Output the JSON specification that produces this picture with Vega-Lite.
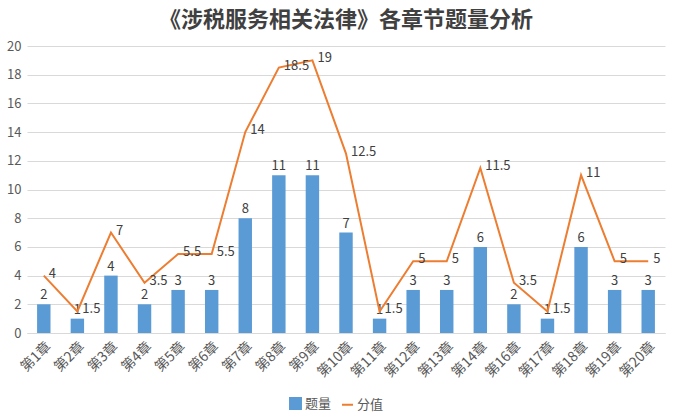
{
  "$schema": "https://vega.github.io/schema/vega-lite/v6.json",
  "autosize": "none",
  "width": 638,
  "height": 287,
  "padding": {"left": 27, "top": 46, "right": 8, "bottom": 87},
  "background": "white",
  "config": {
    "font": "Noto Sans CJK SC",
    "view": {"stroke": null},
    "axis": {"labelFont": "Noto Sans CJK SC", "labelColor": "#595959", "labelFontSize": 13}
  },
  "title": {
    "text": "《涉税服务相关法律》各章节题量分析",
    "fontSize": 22,
    "fontWeight": "bold",
    "color": "#404040",
    "anchor": "middle",
    "offset": 8,
    "font": "Noto Sans CJK SC"
  },
  "data": {
    "values": [
      {"chapter": "第1章", "count": 2, "score": 4},
      {"chapter": "第2章", "count": 1, "score": 1.5},
      {"chapter": "第3章", "count": 4, "score": 7},
      {"chapter": "第4章", "count": 2, "score": 3.5},
      {"chapter": "第5章", "count": 3, "score": 5.5},
      {"chapter": "第6章", "count": 3, "score": 5.5},
      {"chapter": "第7章", "count": 8, "score": 14},
      {"chapter": "第8章", "count": 11, "score": 18.5},
      {"chapter": "第9章", "count": 11, "score": 19},
      {"chapter": "第10章", "count": 7, "score": 12.5},
      {"chapter": "第11章", "count": 1, "score": 1.5},
      {"chapter": "第12章", "count": 3, "score": 5},
      {"chapter": "第13章", "count": 3, "score": 5},
      {"chapter": "第14章", "count": 6, "score": 11.5},
      {"chapter": "第16章", "count": 2, "score": 3.5},
      {"chapter": "第17章", "count": 1, "score": 1.5},
      {"chapter": "第18章", "count": 6, "score": 11},
      {"chapter": "第19章", "count": 3, "score": 5},
      {"chapter": "第20章", "count": 3, "score": 5}
    ]
  },
  "encoding": {
    "x": {
      "field": "chapter",
      "type": "nominal",
      "sort": null,
      "scale": {"paddingInner": 0.6, "paddingOuter": 0.3},
      "axis": {"title": null, "labelAngle": -45, "labelFontSize": 14, "ticks": false, "domainColor": "#d9d9d9", "labelPadding": 6}
    }
  },
  "layer": [
    {
      "mark": {"type": "bar"},
      "encoding": {
        "y": {
          "field": "count",
          "type": "quantitative",
          "scale": {"domain": [0, 20]},
          "axis": {"title": null, "values": [0,2,4,6,8,10,12,14,16,18,20], "labelOverlap": false, "domain": false, "ticks": false, "gridColor": "#d9d9d9", "labelPadding": 6}
        },
        "color": {
          "datum": "题量",
          "type": "nominal",
          "scale": {"domain": ["题量", "分值"], "range": ["#5B9BD5", "#ED7D31"]},
          "legend": {
            "title": null,
            "orient": "none",
            "direction": "horizontal",
            "legendX": 262,
            "legendY": 351,
            "labelFontSize": 13,
            "labelColor": "#595959",
            "symbolSize": 120,
            "columnPadding": 6,
            "labelOffset": 3,
            "symbolStrokeWidth": 2,
            "encode": {
              "symbols": {
                "update": {
                  "shape": {"signal": "datum.value === '题量' ? 'square' : 'stroke'"},
                  "fill": {"signal": "datum.value === '题量' ? '#5B9BD5' : 'transparent'"},
                  "stroke": {"signal": "datum.value === '题量' ? '#5B9BD5' : '#ED7D31'"},
                  "strokeWidth": {"value": 2}
                }
              }
            }
          }
        }
      }
    },
    {
      "mark": {"type": "text", "dy": -9, "fontSize": 13, "color": "#404040"},
      "encoding": {
        "y": {"field": "count", "type": "quantitative", "axis": {"title": null, "values": [0,2,4,6,8,10,12,14,16,18,20], "labelOverlap": false, "domain": false, "ticks": false, "gridColor": "#d9d9d9", "labelPadding": 6}},
        "text": {"field": "count", "type": "quantitative"}
      }
    },
    {
      "mark": {"type": "line", "strokeWidth": 2},
      "encoding": {
        "y": {"field": "score", "type": "quantitative", "axis": {"title": null, "values": [0,2,4,6,8,10,12,14,16,18,20], "labelOverlap": false, "domain": false, "ticks": false, "gridColor": "#d9d9d9", "labelPadding": 6}},
        "color": {"datum": "分值", "type": "nominal"}
      }
    },
    {
      "mark": {"type": "text", "dx": 5, "dy": -2, "align": "left", "baseline": "middle", "fontSize": 13, "color": "#404040"},
      "encoding": {
        "y": {"field": "score", "type": "quantitative", "axis": {"title": null, "values": [0,2,4,6,8,10,12,14,16,18,20], "labelOverlap": false, "domain": false, "ticks": false, "gridColor": "#d9d9d9", "labelPadding": 6}},
        "text": {"field": "score", "type": "quantitative"}
      }
    }
  ]
}
